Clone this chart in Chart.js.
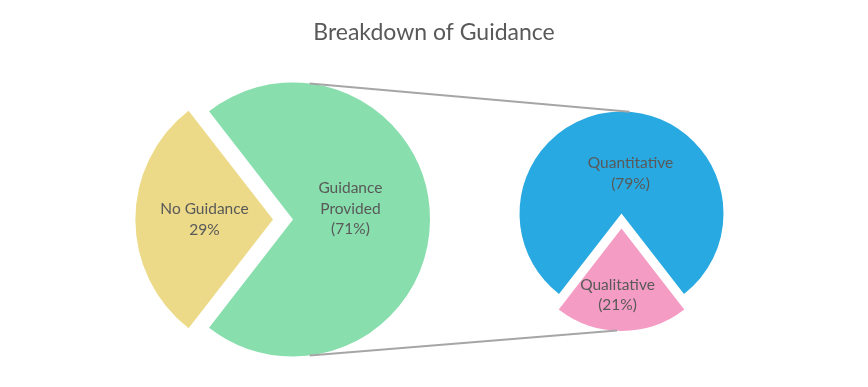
<!DOCTYPE html>
<html>
<head>
<meta charset="utf-8">
<script src="https://cdn.jsdelivr.net/npm/chart.js@4.4.1/dist/chart.umd.min.js"></script>
<style>
  html, body { margin: 0; padding: 0; background: #fff; }
  #wrap { position: relative; width: 868px; height: 387px; }
  #wrap canvas { position: absolute; left: 0; top: 0; }
</style>
</head>
<body>
<div id="wrap">
  <canvas id="mainPie" width="868" height="387"></canvas>
  <canvas id="subPie" width="868" height="387"></canvas>
</div>
<script>
// --- DATOS ---
const chartTitle = 'Breakdown of Guidance';

const mainLabels = ['No Guidance', 'Guidance Provided'];
const mainValues = [29, 71];
const mainText = [['No Guidance', '29%'], ['Guidance', 'Provided', '(71%)']];

const subLabels = ['Qualitative', 'Quantitative'];
const subValues = [21, 79];
const subText = [['Qualitative', '(21%)'], ['Quantitative', '(79%)']];

// --- ESTILO ---
const mainColors = ['#ECDA88', '#88DEAC'];
const subColors = ['#F49CC4', '#29A9E1'];
const textColor = '#595959';
const fontFamily = 'Lato, "Open Sans", sans-serif';

// la primera porción queda centrada a la izquierda (pie principal) o abajo (pie secundario)
const share = (vals) => vals[0] / vals.reduce((a, b) => a + b, 0) * 360;
const mainRotation = 270 - share(mainValues) / 2;
const subRotation = 180 - share(subValues) / 2;

// etiquetas dentro de cada porción
const sliceLabels = {
  id: 'sliceLabels',
  afterDatasetsDraw(chart, args, opts) {
    const ctx = chart.ctx;
    const arcs = chart.getDatasetMeta(0).data;
    ctx.save();
    ctx.font = '15.5px ' + fontFamily;
    ctx.fillStyle = textColor;
    ctx.textAlign = 'center';
    ctx.textBaseline = 'middle';
    arcs.forEach((arc, i) => {
      const mid = (arc.startAngle + arc.endAngle) / 2;
      const off = (arc.options.offset || 0) / 4;
      const d = off + opts.dist[i] * arc.outerRadius;
      const x = arc.x + Math.cos(mid) * d + opts.nudge[i][0];
      const y = arc.y + Math.sin(mid) * d + opts.nudge[i][1];
      const lines = opts.text[i];
      const lh = 20.5;
      lines.forEach((t, k) => {
        ctx.fillText(t, x, y + (k - (lines.length - 1) / 2) * lh);
      });
    });
    ctx.restore();
  }
};

// título centrado sobre todo el lienzo
const pageTitle = {
  id: 'pageTitle',
  afterDraw(chart) {
    const ctx = chart.ctx;
    ctx.save();
    ctx.font = '23px ' + fontFamily;
    ctx.fillStyle = textColor;
    ctx.textAlign = 'center';
    ctx.textBaseline = 'middle';
    ctx.fillText(chartTitle, chart.width / 2, 33);
    ctx.restore();
  }
};

const pieOptions = (rotation, radius, padding, labelOpts) => ({
  responsive: false,
  animation: false,
  rotation: rotation,
  radius: radius,
  layout: { padding: padding },
  plugins: {
    legend: { display: false },
    tooltip: { enabled: false },
    title: { display: false },
    sliceLabels: labelOpts
  }
});

const mainChart = new Chart(document.getElementById('mainPie'), {
  type: 'pie',
  data: {
    labels: mainLabels,
    datasets: [{
      data: mainValues,
      backgroundColor: mainColors,
      borderWidth: 0,
      offset: [80, 0]
    }]
  },
  options: pieOptions(mainRotation, 137, { left: 0, right: 282, top: 52, bottom: 0 },
    { text: mainText, dist: [0.5, 0.39], nudge: [[0, 0], [4, -11]] }),
  plugins: [sliceLabels, pageTitle]
});

// líneas de conexión entre los dos pies
const connectors = {
  id: 'connectors',
  afterDraw(chart) {
    const big = mainChart.getDatasetMeta(0).data[1];
    const top = chart.getDatasetMeta(0).data[1];
    const bottom = chart.getDatasetMeta(0).data[0];
    const pt = (arc, deg, shifted) => {
      const a = deg * Math.PI / 180;
      const mid = (arc.startAngle + arc.endAngle) / 2;
      const off = shifted ? (arc.options.offset || 0) / 4 : 0;
      return [arc.x + Math.cos(mid) * off + Math.cos(a) * arc.outerRadius,
              arc.y + Math.sin(mid) * off + Math.sin(a) * arc.outerRadius];
    };
    const ctx = chart.ctx;
    ctx.save();
    ctx.strokeStyle = '#A6A6A6';
    ctx.lineWidth = 2;
    [[pt(big, -83, false), pt(top, -85.5, true)], [pt(big, 83, false), pt(bottom, 92.5, true)]].forEach(([a, b]) => {
      ctx.beginPath();
      ctx.moveTo(a[0], a[1]);
      ctx.lineTo(b[0], b[1]);
      ctx.stroke();
    });
    ctx.restore();
  }
};

const subChart = new Chart(document.getElementById('subPie'), {
  type: 'pie',
  data: {
    labels: subLabels,
    datasets: [{
      data: subValues,
      backgroundColor: subColors,
      borderWidth: 0,
      offset: [60, 0]
    }]
  },
  options: pieOptions(subRotation, 102, { left: 375, right: 0, top: 40, bottom: 0 },
    { text: subText, dist: [0.65, 0.39], nudge: [[-4, 0], [9, 0]] }),
  plugins: [sliceLabels, connectors]
});
</script>
</body>
</html>
